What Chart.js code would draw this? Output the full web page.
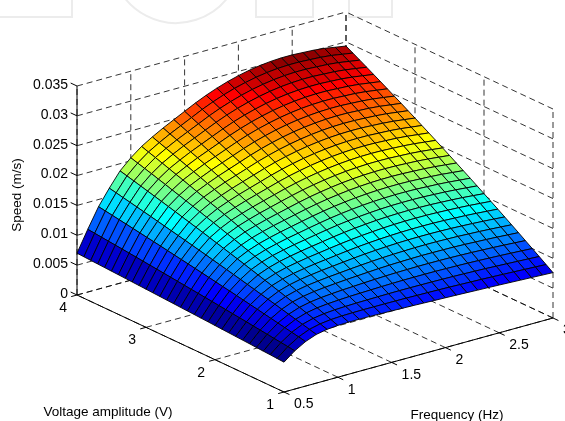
<!DOCTYPE html>
<html>
<head>
<meta charset="utf-8">
<script src="https://cdn.jsdelivr.net/npm/chart.js@4.4.1/dist/chart.umd.min.js"></script>
<style>
  html, body { margin: 0; padding: 0; background: #fff; }
  #wrap { width: 565px; height: 421px; }
</style>
</head>
<body>
<div id="wrap"><canvas id="surfChart" width="565" height="421"></canvas></div>
<script>
// grid of the surface
const frequency = [0.5, 0.6, 0.7, 0.8, 0.9, 1.0, 1.1, 1.2, 1.3, 1.4, 1.5, 1.6, 1.7, 1.8, 1.9,
    2.0, 2.1, 2.2, 2.3, 2.4, 2.5, 2.6, 2.7, 2.8, 2.9, 3.0];
const voltage = [1.0, 1.1, 1.2, 1.3, 1.4, 1.5, 1.6, 1.7, 1.8, 1.9, 2.0, 2.1, 2.2, 2.3, 2.4, 2.5,
    2.6, 2.7, 2.8, 2.9, 3.0, 3.1, 3.2, 3.3, 3.4, 3.5, 3.6, 3.7, 3.8, 3.9, 4.0];

// speed[i][j] in m/s, at frequency[i] and voltage[j]
const speed = [
    [0.00500,0.00507,0.00515,0.00522,0.00529,0.00537,0.00544,0.00551,0.00558,0.00565,0.00572,0.00579,0.00586,0.00593,0.00599,0.00606,0.00613,0.00619,0.00626,0.00632,0.00639,0.00645,0.00651,0.00658,0.00664,0.00670,0.00676,0.00682,0.00688,0.00694,0.00700],
    [0.00640,0.00655,0.00670,0.00685,0.00700,0.00715,0.00730,0.00745,0.00759,0.00773,0.00788,0.00802,0.00816,0.00830,0.00844,0.00857,0.00871,0.00884,0.00898,0.00911,0.00924,0.00937,0.00950,0.00963,0.00976,0.00989,0.01001,0.01013,0.01026,0.01038,0.01050],
    [0.00745,0.00769,0.00792,0.00815,0.00839,0.00861,0.00884,0.00907,0.00929,0.00952,0.00974,0.00996,0.01017,0.01039,0.01060,0.01082,0.01103,0.01124,0.01144,0.01165,0.01185,0.01206,0.01226,0.01245,0.01265,0.01285,0.01304,0.01323,0.01343,0.01361,0.01380],
    [0.00815,0.00846,0.00876,0.00906,0.00936,0.00966,0.00996,0.01025,0.01054,0.01083,0.01112,0.01141,0.01169,0.01197,0.01225,0.01252,0.01280,0.01307,0.01334,0.01361,0.01387,0.01413,0.01439,0.01465,0.01491,0.01516,0.01541,0.01566,0.01591,0.01616,0.01640],
    [0.00850,0.00888,0.00926,0.00964,0.01002,0.01039,0.01076,0.01112,0.01149,0.01185,0.01221,0.01256,0.01292,0.01327,0.01361,0.01396,0.01430,0.01464,0.01498,0.01531,0.01564,0.01597,0.01630,0.01662,0.01694,0.01726,0.01757,0.01788,0.01819,0.01850,0.01880],
    [0.00867,0.00911,0.00955,0.00998,0.01041,0.01084,0.01126,0.01168,0.01210,0.01252,0.01293,0.01334,0.01374,0.01415,0.01454,0.01494,0.01533,0.01572,0.01611,0.01649,0.01687,0.01725,0.01762,0.01799,0.01836,0.01873,0.01909,0.01945,0.01980,0.02015,0.02050],
    [0.00872,0.00921,0.00970,0.01018,0.01066,0.01114,0.01161,0.01208,0.01254,0.01301,0.01347,0.01392,0.01437,0.01482,0.01526,0.01571,0.01614,0.01658,0.01701,0.01744,0.01786,0.01828,0.01870,0.01911,0.01952,0.01992,0.02033,0.02072,0.02112,0.02151,0.02190],
    [0.00872,0.00925,0.00978,0.01030,0.01082,0.01134,0.01185,0.01236,0.01286,0.01336,0.01386,0.01435,0.01484,0.01533,0.01581,0.01629,0.01676,0.01723,0.01770,0.01816,0.01862,0.01908,0.01953,0.01997,0.02042,0.02086,0.02129,0.02173,0.02216,0.02258,0.02300],
    [0.00870,0.00927,0.00984,0.01040,0.01095,0.01150,0.01205,0.01260,0.01314,0.01368,0.01421,0.01474,0.01526,0.01578,0.01630,0.01681,0.01732,0.01782,0.01832,0.01882,0.01931,0.01980,0.02028,0.02076,0.02123,0.02171,0.02217,0.02264,0.02310,0.02355,0.02400],
    [0.00866,0.00926,0.00987,0.01046,0.01105,0.01164,0.01222,0.01280,0.01337,0.01394,0.01451,0.01507,0.01562,0.01618,0.01672,0.01727,0.01781,0.01834,0.01887,0.01940,0.01992,0.02044,0.02095,0.02146,0.02196,0.02246,0.02296,0.02345,0.02394,0.02442,0.02490],
    [0.00862,0.00926,0.00990,0.01052,0.01115,0.01177,0.01239,0.01300,0.01360,0.01421,0.01480,0.01540,0.01599,0.01657,0.01715,0.01773,0.01830,0.01886,0.01942,0.01998,0.02053,0.02108,0.02162,0.02216,0.02269,0.02322,0.02375,0.02427,0.02478,0.02529,0.02580],
    [0.00857,0.00924,0.00992,0.01058,0.01124,0.01189,0.01254,0.01319,0.01383,0.01447,0.01510,0.01572,0.01634,0.01696,0.01757,0.01818,0.01878,0.01938,0.01997,0.02056,0.02114,0.02172,0.02229,0.02286,0.02342,0.02398,0.02453,0.02508,0.02563,0.02617,0.02670],
    [0.00852,0.00923,0.00993,0.01062,0.01131,0.01200,0.01268,0.01336,0.01403,0.01469,0.01535,0.01601,0.01666,0.01730,0.01794,0.01858,0.01921,0.01983,0.02046,0.02107,0.02168,0.02228,0.02289,0.02348,0.02407,0.02465,0.02523,0.02581,0.02638,0.02694,0.02750],
    [0.00846,0.00919,0.00993,0.01065,0.01137,0.01208,0.01279,0.01349,0.01419,0.01488,0.01557,0.01625,0.01693,0.01760,0.01826,0.01892,0.01958,0.02023,0.02087,0.02151,0.02215,0.02278,0.02340,0.02402,0.02463,0.02524,0.02584,0.02644,0.02703,0.02762,0.02820],
    [0.00840,0.00916,0.00991,0.01066,0.01140,0.01214,0.01287,0.01360,0.01432,0.01503,0.01574,0.01645,0.01715,0.01784,0.01853,0.01921,0.01989,0.02056,0.02123,0.02189,0.02254,0.02319,0.02384,0.02448,0.02511,0.02574,0.02636,0.02698,0.02759,0.02820,0.02880],
    [0.00834,0.00912,0.00990,0.01066,0.01143,0.01218,0.01293,0.01368,0.01442,0.01516,0.01589,0.01661,0.01733,0.01804,0.01875,0.01945,0.02015,0.02083,0.02152,0.02220,0.02287,0.02354,0.02421,0.02486,0.02551,0.02616,0.02680,0.02743,0.02806,0.02868,0.02930],
    [0.00828,0.00908,0.00987,0.01065,0.01143,0.01221,0.01298,0.01374,0.01449,0.01525,0.01599,0.01673,0.01747,0.01819,0.01891,0.01963,0.02035,0.02105,0.02175,0.02244,0.02313,0.02381,0.02449,0.02516,0.02583,0.02649,0.02714,0.02779,0.02843,0.02907,0.02970],
    [0.00821,0.00902,0.00983,0.01062,0.01142,0.01220,0.01299,0.01376,0.01453,0.01530,0.01605,0.01681,0.01755,0.01829,0.01903,0.01976,0.02048,0.02120,0.02191,0.02262,0.02332,0.02401,0.02470,0.02538,0.02606,0.02673,0.02740,0.02806,0.02871,0.02936,0.03000],
    [0.00814,0.00896,0.00978,0.01058,0.01139,0.01218,0.01298,0.01376,0.01454,0.01531,0.01608,0.01684,0.01760,0.01835,0.01909,0.01983,0.02057,0.02129,0.02201,0.02273,0.02343,0.02414,0.02484,0.02553,0.02621,0.02689,0.02756,0.02823,0.02890,0.02955,0.03020],
    [0.00807,0.00890,0.00972,0.01053,0.01134,0.01215,0.01294,0.01373,0.01452,0.01530,0.01607,0.01684,0.01760,0.01836,0.01911,0.01985,0.02059,0.02132,0.02205,0.02277,0.02348,0.02419,0.02490,0.02559,0.02628,0.02697,0.02764,0.02832,0.02899,0.02964,0.03030],
    [0.00800,0.00883,0.00966,0.01047,0.01128,0.01209,0.01289,0.01368,0.01447,0.01525,0.01603,0.01680,0.01756,0.01832,0.01907,0.01982,0.02056,0.02129,0.02202,0.02275,0.02346,0.02417,0.02488,0.02558,0.02627,0.02696,0.02764,0.02831,0.02898,0.02964,0.03030],
    [0.00792,0.00875,0.00957,0.01039,0.01120,0.01200,0.01280,0.01360,0.01438,0.01517,0.01594,0.01671,0.01747,0.01823,0.01898,0.01973,0.02047,0.02120,0.02193,0.02265,0.02337,0.02408,0.02478,0.02548,0.02617,0.02686,0.02754,0.02821,0.02888,0.02954,0.03020],
    [0.00784,0.00867,0.00949,0.01031,0.01112,0.01192,0.01272,0.01351,0.01430,0.01508,0.01585,0.01662,0.01738,0.01814,0.01889,0.01964,0.02038,0.02111,0.02184,0.02256,0.02327,0.02398,0.02469,0.02538,0.02608,0.02676,0.02744,0.02811,0.02878,0.02944,0.03010],
    [0.00776,0.00858,0.00940,0.01021,0.01102,0.01182,0.01261,0.01340,0.01418,0.01496,0.01573,0.01649,0.01725,0.01801,0.01875,0.01949,0.02023,0.02096,0.02168,0.02240,0.02311,0.02382,0.02452,0.02521,0.02590,0.02658,0.02725,0.02792,0.02859,0.02925,0.02990],
    [0.00768,0.00850,0.00931,0.01011,0.01091,0.01170,0.01249,0.01327,0.01404,0.01481,0.01557,0.01633,0.01708,0.01782,0.01856,0.01930,0.02003,0.02075,0.02146,0.02217,0.02288,0.02358,0.02427,0.02496,0.02564,0.02631,0.02698,0.02765,0.02830,0.02895,0.02960],
    [0.00760,0.00841,0.00921,0.01000,0.01079,0.01158,0.01236,0.01313,0.01390,0.01466,0.01541,0.01616,0.01691,0.01764,0.01837,0.01910,0.01982,0.02054,0.02125,0.02195,0.02265,0.02334,0.02403,0.02470,0.02538,0.02605,0.02671,0.02737,0.02802,0.02866,0.02930]
];

// axis ticks
const freqTicks = [0.5, 1, 1.5, 2, 2.5, 3];
const voltTicks = [1, 2, 3, 4];
const speedTicks = [0, 0.005, 0.01, 0.015, 0.02, 0.025, 0.03, 0.035];
const freqTickLabels = ['0.5', '1', '1.5', '2', '2.5', '3'];
const voltTickLabels = ['1', '2', '3', '4'];
const speedTickLabels = ['0', '0.005', '0.01', '0.015', '0.02', '0.025', '0.03', '0.035'];

// axis limits
const freqLim = [0.5, 3];
const voltLim = [1, 4];
const speedLim = [0, 0.035];

// how the box edges look on the page (view direction)
const FREQ_DIR = [269, 74];
const VOLT_DIR = [-207, 97];
const SPEED_DIR = 209;

const FONT = "'Liberation Sans', Arial, Helvetica, sans-serif";

// 3D -> 2D plane, the chart's x/y scales then place it on the canvas
function project(f, v, s) {
    const tf = (f - freqLim[0]) / (freqLim[1] - freqLim[0]);
    const tv = (v - voltLim[0]) / (voltLim[1] - voltLim[0]);
    const ts = (s - speedLim[0]) / (speedLim[1] - speedLim[0]);
    return {
        x: FREQ_DIR[0] * tf + VOLT_DIR[0] * tv,
        y: FREQ_DIR[1] * tf + VOLT_DIR[1] * tv + SPEED_DIR * ts
    };
}

// matlab jet(64)
function jetColor(value, cmin, cmax) {
    let k = Math.floor((value - cmin) / (cmax - cmin) * 64) + 1;
    k = Math.min(64, Math.max(1, k));
    const u = (i) => (i < 1 || i > 47) ? 0 : (i <= 16 ? i / 16 : (i <= 31 ? 1 : (48 - i) / 16));
    return 'rgb(' + Math.round(u(k - 24) * 255) + ',' + Math.round(u(k - 8) * 255) + ',' + Math.round(u(k + 8) * 255) + ')';
}

const surfacePlugin = {
    id: 'surface3d',
    beforeDatasetsDraw(chart) {
        const ctx = chart.ctx;
        const sx = chart.scales.x;
        const sy = chart.scales.y;
        const P = (f, v, s) => {
            const p = project(f, v, s);
            return [sx.getPixelForValue(p.x), sy.getPixelForValue(p.y)];
        };
        const seg = (a, b) => {
            ctx.beginPath();
            ctx.moveTo(a[0], a[1]);
            ctx.lineTo(b[0], b[1]);
            ctx.stroke();
        };

        ctx.save();

        // faint watermark at the top of the page
        ctx.strokeStyle = '#ececec';
        ctx.lineWidth = 2;
        ctx.beginPath();
        ctx.moveTo(0, 17); ctx.lineTo(72, 17); ctx.lineTo(72, 0);
        ctx.moveTo(256, 0); ctx.lineTo(256, 17); ctx.lineTo(313, 17); ctx.lineTo(313, 0);
        ctx.moveTo(349, 0); ctx.lineTo(349, 17); ctx.lineTo(392, 17); ctx.lineTo(392, 0);
        ctx.stroke();
        ctx.beginPath();
        ctx.arc(176, -42, 65, 0.15 * Math.PI, 0.85 * Math.PI);
        ctx.stroke();

        // dashed grid on floor and back walls
        ctx.strokeStyle = '#000';
        ctx.lineWidth = 0.8;
        ctx.setLineDash([6, 4]);
        const sTop = speedLim[1];
        freqTicks.forEach(f => {
            seg(P(f, voltLim[0], 0), P(f, voltLim[1], 0));
            seg(P(f, voltLim[1], 0), P(f, voltLim[1], sTop));
        });
        voltTicks.forEach(v => {
            seg(P(freqLim[0], v, 0), P(freqLim[1], v, 0));
            seg(P(freqLim[1], v, 0), P(freqLim[1], v, sTop));
        });
        speedTicks.forEach(s => {
            seg(P(freqLim[0], voltLim[1], s), P(freqLim[1], voltLim[1], s));
            seg(P(freqLim[1], voltLim[0], s), P(freqLim[1], voltLim[1], s));
        });

        // solid axis lines
        ctx.setLineDash([]);
        ctx.lineWidth = 1;
        seg(P(freqLim[0], voltLim[1], 0), P(freqLim[0], voltLim[1], sTop));
        seg(P(freqLim[0], voltLim[0], 0), P(freqLim[0], voltLim[1], 0));
        seg(P(freqLim[0], voltLim[0], 0), P(freqLim[1], voltLim[0], 0));

        // tick marks
        const unit = (a, b) => {
            const dx = b[0] - a[0], dy = b[1] - a[1];
            const len = Math.hypot(dx, dy);
            return [dx / len, dy / len];
        };
        const vDir = unit(P(freqLim[0], voltLim[0], 0), P(freqLim[0], voltLim[1], 0));
        const fDir = unit(P(freqLim[0], voltLim[0], 0), P(freqLim[1], voltLim[0], 0));
        speedTicks.forEach(s => {
            const a = P(freqLim[0], voltLim[1], s);
            seg(a, [a[0] + vDir[0] * 7, a[1] + vDir[1] * 7]);
        });
        voltTicks.forEach(v => {
            const a = P(freqLim[0], v, 0);
            seg(a, [a[0] - fDir[0] * 6, a[1] - fDir[1] * 6]);
        });
        freqTicks.forEach(f => {
            const a = P(f, voltLim[0], 0);
            seg(a, [a[0] - vDir[0] * 6, a[1] - vDir[1] * 6]);
        });

        // surface faces, back to front
        const all = speed.flat();
        const cmin = Math.min(...all);
        const cmax = Math.max(...all);
        const faces = [];
        for (let i = 0; i < frequency.length - 1; i++) {
            for (let j = 0; j < voltage.length - 1; j++) {
                const fm = (frequency[i] + frequency[i + 1]) / 2;
                const vm = (voltage[j] + voltage[j + 1]) / 2;
                faces.push({
                    depth: project(fm, vm, 0).y,
                    pts: [
                        P(frequency[i], voltage[j], speed[i][j]),
                        P(frequency[i + 1], voltage[j], speed[i + 1][j]),
                        P(frequency[i + 1], voltage[j + 1], speed[i + 1][j + 1]),
                        P(frequency[i], voltage[j + 1], speed[i][j + 1])
                    ],
                    color: jetColor(speed[i][j], cmin, cmax)
                });
            }
        }
        faces.sort((a, b) => b.depth - a.depth);
        ctx.lineWidth = 0.9;
        ctx.lineJoin = 'round';
        ctx.strokeStyle = '#000';
        faces.forEach(face => {
            ctx.beginPath();
            ctx.moveTo(face.pts[0][0], face.pts[0][1]);
            for (let k = 1; k < 4; k++) ctx.lineTo(face.pts[k][0], face.pts[k][1]);
            ctx.closePath();
            ctx.fillStyle = face.color;
            ctx.fill();
            ctx.stroke();
        });

        // tick labels
        ctx.fillStyle = '#000';
        ctx.font = '14px ' + FONT;
        ctx.textBaseline = 'middle';
        ctx.textAlign = 'right';
        speedTicks.forEach((s, k) => {
            const a = P(freqLim[0], voltLim[1], s);
            ctx.fillText(speedTickLabels[k], a[0] - 9, a[1] - 1);
        });
        voltTicks.forEach((v, k) => {
            const a = P(freqLim[0], v, 0);
            ctx.fillText(voltTickLabels[k], a[0] - 10, a[1] + 13);
        });
        ctx.textAlign = 'left';
        freqTicks.forEach((f, k) => {
            const a = P(f, voltLim[0], 0);
            ctx.fillText(freqTickLabels[k], a[0] + 10, a[1] + 12.5);
        });

        // axis titles
        ctx.textAlign = 'center';
        ctx.font = '13.5px ' + FONT;
        ctx.fillText('Voltage amplitude (V)', 108, 412);
        ctx.fillText('Frequency (Hz)', 457, 415);
        ctx.save();
        ctx.translate(17, 195);
        ctx.rotate(-Math.PI / 2);
        ctx.fillText('Speed (m/s)', 0, 0);
        ctx.restore();

        ctx.restore();
    }
};

// vertices through the chart's own scales (invisible points)
const vertexPoints = [];
frequency.forEach((f, i) => voltage.forEach((v, j) => vertexPoints.push(project(f, v, speed[i][j]))));

new Chart(document.getElementById('surfChart'), {
    type: 'scatter',
    data: {
        datasets: [{
            label: 'Speed (m/s)',
            data: vertexPoints,
            pointRadius: 0,
            showLine: false
        }]
    },
    options: {
        responsive: false,
        devicePixelRatio: 1,
        animation: false,
        events: [],
        layout: {
            padding: { left: 77, right: 12, top: 12, bottom: 29 }
        },
        scales: {
            x: { type: 'linear', min: VOLT_DIR[0], max: FREQ_DIR[0], display: false },
            y: { type: 'linear', min: 0, max: FREQ_DIR[1] + VOLT_DIR[1] + SPEED_DIR, display: false }
        },
        plugins: {
            legend: { display: false },
            tooltip: { enabled: false }
        }
    },
    plugins: [surfacePlugin]
});
</script>
</body>
</html>
